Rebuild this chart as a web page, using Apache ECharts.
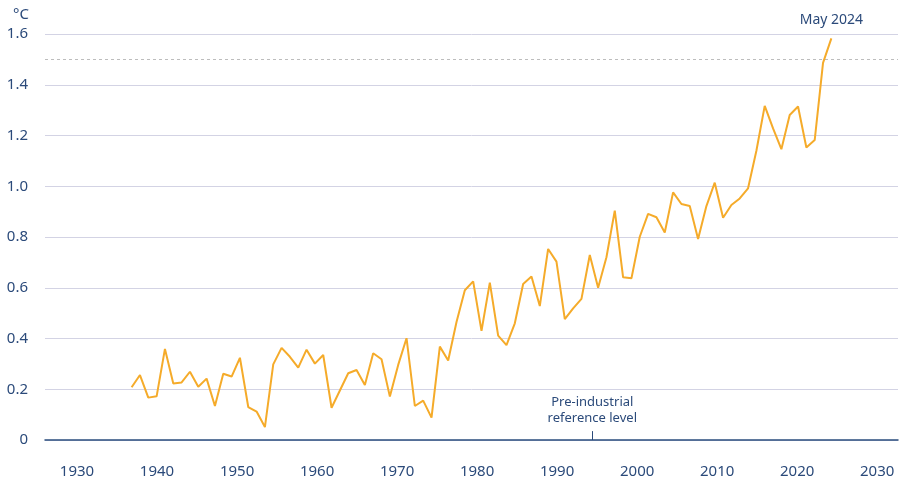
<!DOCTYPE html>
<html>
<head>
<meta charset="utf-8">
<script src="https://cdn.jsdelivr.net/npm/echarts@6/dist/echarts.min.js"></script>
<style>
  html, body { margin: 0; padding: 0; background: #fff; }
  #chart { width: 903px; height: 481px; }
</style>
</head>
<body>
<div id="chart"></div>
<script>
// annual values, 1940 .. 2024 (last point = May 2024)
const years = []
for (let y = 1940; y <= 2024; y++) years.push(y)
const anomaly = [
  0.208, 0.256, 0.167, 0.172, 0.359, 0.223, 0.227, 0.269, 0.210, 0.242,
  0.134, 0.261, 0.250, 0.324, 0.130, 0.112, 0.051, 0.298, 0.363, 0.328,
  0.285, 0.356, 0.301, 0.335, 0.127, 0.195, 0.263, 0.276, 0.217, 0.342,
  0.318, 0.171, 0.296, 0.401, 0.134, 0.155, 0.088, 0.368, 0.313, 0.465,
  0.590, 0.625, 0.430, 0.620, 0.411, 0.374, 0.460, 0.615, 0.644, 0.528,
  0.753, 0.703, 0.476, 0.519, 0.556, 0.729, 0.600, 0.720, 0.904, 0.641,
  0.637, 0.801, 0.891, 0.878, 0.818, 0.976, 0.930, 0.922, 0.792, 0.922,
  1.014, 0.876, 0.926, 0.952, 0.992, 1.140, 1.317, 1.228, 1.146, 1.281,
  1.314, 1.153, 1.182, 1.486, 1.583
]
const yTicks = [0, 0.2, 0.4, 0.6, 0.8, 1.0, 1.2, 1.4, 1.6]
const xTickYears = [1930, 1940, 1950, 1960, 1970, 1980, 1990, 2000, 2010, 2020, 2030]
const limitLevel = 1.5
const lastLabel = 'May 2024'
const refYear = 1995.3

const navy = '#2b4a7a'
const font = 'Noto Sans'

const myChart = echarts.init(document.getElementById('chart'), null, { renderer: 'canvas' })

const option = {
  animation: false,
  grid: { left: 45, right: 5, top: 34, bottom: 41 },
  xAxis: [
    {
      // 只用来画刻度文字
      type: 'value',
      min: 1926,
      max: 2032.6,
      interval: 2,
      axisLine: { show: true, lineStyle: { color: '#2b4e7e', width: 1.5 } },
      axisTick: { show: false },
      splitLine: { show: false },
      axisLabel: {
        margin: 24,
        color: navy,
        fontSize: 15,
        fontFamily: font,
        showMinLabel: true,
        showMaxLabel: true,
        formatter: v => (xTickYears.indexOf(v) >= 0 ? String(v) : '')
      }
    },
    {
      // 数据用的轴
      type: 'value',
      show: false,
      min: 1929.6,
      max: 2032
    }
  ],
  yAxis: {
    type: 'value',
    min: yTicks[0],
    max: yTicks[yTicks.length - 1],
    interval: 0.2,
    name: '°C',
    nameLocation: 'end',
    nameGap: 12,
    nameTextStyle: {
      color: navy,
      fontSize: 15,
      fontFamily: font,
      align: 'right',
      padding: [0, 16, 0, 0]
    },
    axisLine: { show: false },
    axisTick: { show: false },
    splitLine: { lineStyle: { color: '#d3d3e4', width: 1 } },
    axisLabel: {
      margin: 17,
      color: navy,
      fontSize: 15,
      fontFamily: font,
      formatter: v => (v === 0 ? '0' : v.toFixed(1))
    }
  },
  series: [
    {
      type: 'line',
      xAxisIndex: 1,
      data: years.map((y, i) => [y, anomaly[i]]),
      symbol: 'none',
      lineStyle: { color: '#f5ab2a', width: 2 },
      z: 5,
      markLine: {
        silent: true,
        symbol: ['none', 'none'],
        data: [
          {
            yAxis: limitLevel,
            lineStyle: { color: '#bdbdbd', type: [3, 3], width: 1 },
            label: { show: false }
          },
          [
            { coord: [refYear, 0] },
            {
              coord: [refYear, 0.035],
              lineStyle: { color: navy, type: 'solid', width: 1 },
              label: {
                show: true,
                position: 'end',
                distance: 5,
                formatter: 'Pre-industrial\nreference level',
                color: navy,
                fontSize: 13,
                lineHeight: 16,
                fontFamily: font,
                align: 'center'
              }
            }
          ]
        ]
      },
      markPoint: {
        silent: true,
        symbol: 'circle',
        symbolSize: 1,
        itemStyle: { color: 'rgba(0,0,0,0)' },
        data: [
          {
            coord: [years[years.length - 1], anomaly[anomaly.length - 1]],
            label: {
              show: true,
              position: 'top',
              distance: 11,
              formatter: lastLabel,
              color: navy,
              fontSize: 14,
              fontFamily: font
            }
          }
        ]
      }
    }
  ]
}

// 绘制图表
myChart.setOption(option)

window.addEventListener('resize', () => {
  myChart.resize()
})
</script>
</body>
</html>
